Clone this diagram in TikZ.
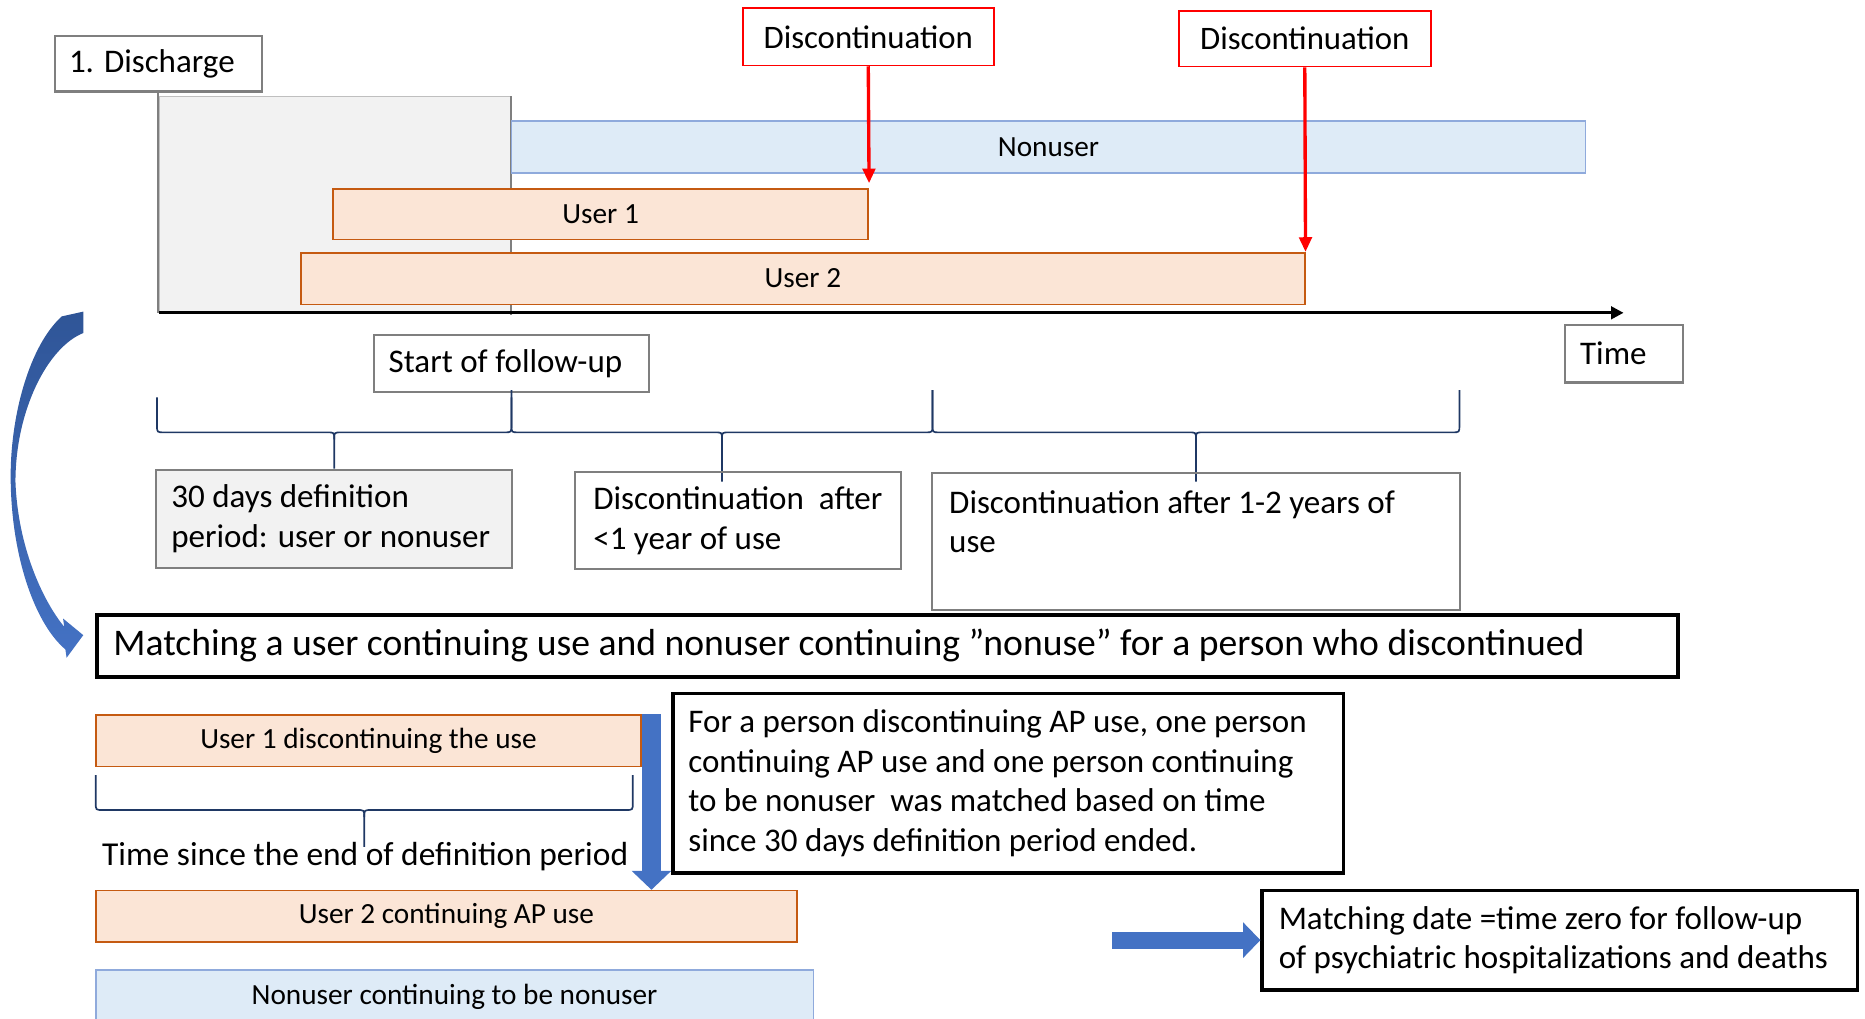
\documentclass[tikz,border=0pt]{standalone}
\usepackage{fontspec}
\setmainfont{Carlito}
\usetikzlibrary{arrows.meta,calc}

\definecolor{boxgray}{HTML}{7F7F7F}
\definecolor{defgray}{HTML}{F2F2F2}
\definecolor{nonfill}{HTML}{DEEBF7}
\definecolor{nonline}{HTML}{8FAADC}
\definecolor{usefill}{HTML}{FBE5D6}
\definecolor{useline}{HTML}{C55A11}
\definecolor{bracenavy}{HTML}{1F3864}
\definecolor{arrowblue}{HTML}{4472C4}
\definecolor{arrowdark}{HTML}{2F5597}

\tikzset{
  graybox/.style={draw=boxgray, line width=1.1pt, inner sep=0pt, align=flush left, font=\fontsize{15.8}{19}\selectfont},
  redbox/.style={draw=red, line width=0.8pt, inner sep=0pt, font=\fontsize{15.7}{19}\selectfont},
  userbar/.style={draw=useline, fill=usefill, line width=0.8pt, inner sep=0pt, font=\fontsize{14}{17}\selectfont},
  nonbar/.style={draw=nonline, fill=nonfill, line width=0.8pt, inner sep=0pt, font=\fontsize{14}{17}\selectfont},
  blackbox/.style={draw=black, line width=1.6pt, inner sep=0pt, align=flush left, font=\fontsize{15.8}{19}\selectfont},
  bracepath/.style={draw=bracenavy, line width=0.8pt},
  redarrow/.style={draw=red, line width=1.6pt, -{Triangle[width=6pt,length=7pt]}}
}

% brace: left x, right x, top y, bar y, tip y
\newcommand{\timebrace}[5]{%
  \pgfmathsetmacro{\brmid}{(#1+#2)/2}
  \draw[bracepath] (#1,#3) -- (#1,#4-6) .. controls (#1,#4) .. (#1+6,#4) -- (\brmid-6,#4)
    .. controls (\brmid,#4) .. (\brmid,#4+6) -- (\brmid,#5);
  \draw[bracepath] (#2,#3) -- (#2,#4-6) .. controls (#2,#4) .. (#2-6,#4) -- (\brmid+6,#4)
    .. controls (\brmid,#4) .. (\brmid,#4+6);
}

\begin{document}
\begin{tikzpicture}[x=0.02cm,y=-0.02cm]
    \useasboundingbox (0,0) rectangle (1568,856);

    % definition period
    \fill[defgray, draw=gray!50] (134,81) rectangle (430,263);
    \draw[boxgray, line width=1pt] (430,81) -- (430,265);

    \node[graybox, minimum height=0.94cm, inner xsep=0.24cm, text width=3cm] (disch) at (133,53.5) {1. Discharge};
    \node[redbox, minimum width=4.22cm, minimum height=0.96cm] (disc1) at (730,31) {Discontinuation};
    \node[redbox, minimum width=4.24cm, minimum height=0.94cm] (disc2) at (1097,32.5) {Discontinuation};

    \coordinate (t0) at (134,263);
    \coordinate (t1) at (1365,263);
    \draw[boxgray, line width=1pt] (disch.south) -- (disch.south |- t0);

    \node[nonbar, minimum width=18.06cm, minimum height=0.87cm] (nonuser) at (881.5,123.7) {Nonuser};
    \node[userbar, minimum width=9cm, minimum height=0.85cm] (user1) at (505,180) {User 1};
    \node[userbar, minimum width=16.88cm, minimum height=0.87cm] (user2) at (675,234.2) {User 2};

    \draw[redarrow] (disc1.south) -- ($(user1.north east)+(0,-4)$);
    \draw[redarrow] (disc2.south) -- (user2.north east);

    \draw[line width=1.4pt, -{Triangle[width=6pt,length=6pt]}] (t0) -- (t1);

    \node[graybox, minimum height=0.97cm, inner xsep=0.25cm, text width=1.48cm] (time) at (1365.5,297.4) {Time};
    \node[graybox, minimum height=0.96cm, inner xsep=0.25cm, text width=4.13cm] (start) at (430,305.6) {Start of follow-up};

    \timebrace{132}{430}{334}{363.5}{394}
    \timebrace{430}{784}{328}{363.5}{405}
    \timebrace{784}{1227}{328}{363.5}{405}

    \node[graybox, fill=defgray, minimum height=1.65cm, inner xsep=0.26cm, text width=5.47cm]
      (defbox) at (280.8,436.2) {30 days definition\\period: user or nonuser};
    \node[graybox, minimum width=5.49cm, minimum height=1.63cm]
      (lt1) at (620.4,437.8) {Discontinuation~ after\\<1 year of use};
    \node[graybox, minimum height=2.3cm, inner xsep=0.29cm, text width=8.3cm]
      (y12) at (1005.5,455.3) {Discontinuation after 1-2 years of\\use\\\mbox{}};

    \node[blackbox, line width=1.9pt, minimum height=1.04cm, inner xsep=0.27cm, text width=26.05cm,
      font=\fontsize{18}{21}\selectfont] (match) at (746.5,543)
      {Matching a user continuing use and nonuser continuing ”nonuse” for a person who discontinued};

    % curved arrow
    \shade[top color=arrowdark, bottom color=arrowblue] (70,262) -- (52,266) .. controls (25,290) and (8,350) .. (9,405)
      .. controls (10,470) and (30,525) .. (55,546) -- (56,553) -- (70,534) -- (53,520) -- (54,527)
      .. controls (36,505) and (15,460) .. (13,405) .. controls (13,345) and (40,292) .. (70,280) -- cycle;

    \node[userbar, minimum width=9.17cm, minimum height=0.87cm] (u1d) at (309.8,622.8) {User 1 discontinuing the use};
    \timebrace{80.5}{532}{651.6}{681}{712}
    \node[font=\fontsize{16}{19}\selectfont, inner sep=0pt] (since) at (307,720) {Time since the end of definition period};
    \node[userbar, minimum width=11.79cm, minimum height=0.86cm] (u2c) at (375.3,770.3) {User 2 continuing AP use};
    \node[nonbar, minimum width=12.07cm, minimum height=0.9cm] (nonc) at (382.2,838) {Nonuser continuing to be nonuser};

    \coordinate (dtop) at ($(u1d.north east)+(8,0)$);
    \draw[arrowblue, line width=0.33cm, -{Triangle[width=0.65cm,length=0.32cm]}] (dtop) -- (dtop |- u2c.north);

    \node[blackbox, minimum height=3.02cm, inner xsep=0.26cm, text width=10.76cm] (person) at (847.7,658.5)
      {For a person discontinuing AP use, one person\\continuing AP use and one person continuing\\to be nonuser~ was matched based on time\\since 30 days definition period ended.};
    \node[blackbox, minimum height=1.68cm, inner xsep=0.28cm, text width=9.45cm] (mdate) at (1311.3,790.4)
      {Matching date =time zero for follow-up\\of psychiatric hospitalizations and deaths};

    \coordinate (rstart) at (935,790.4);
    \draw[arrowblue, line width=0.29cm, -{Triangle[width=0.58cm,length=0.29cm]}] (rstart) -- (mdate.west);
\end{tikzpicture}
\end{document}
